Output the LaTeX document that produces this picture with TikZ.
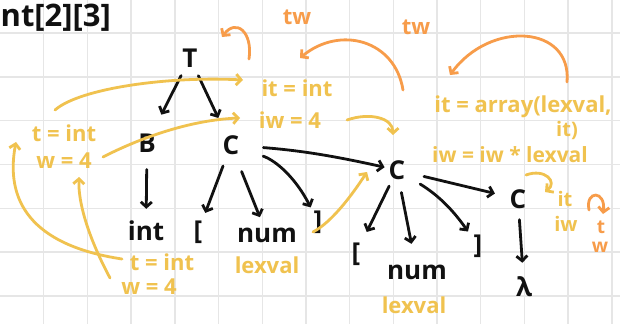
\documentclass[tikz,border=0pt]{standalone}
\usepackage{fontspec}
\setmainfont{Open Sans}
\usetikzlibrary{arrows.meta}
\definecolor{gridgray}{HTML}{E6E6E6}
\definecolor{inkblack}{HTML}{111111}
\definecolor{annyellow}{HTML}{F0C24F}
\definecolor{annorange}{HTML}{F79C4A}

\begin{document}
\begin{tikzpicture}[
  x=1pt,y=-1pt,
  every node/.style={inner sep=1pt},
  sym/.style={text=inkblack,font=\fontsize{26}{28}\bfseries},
  ann/.style={text=annyellow,font=\fontsize{22}{24}\bfseries},
  oann/.style={text=annorange,font=\fontsize{22}{24}\bfseries},
  edge/.style={-{Straight Barb[length=5pt,width=11pt]},line width=2.8pt,line cap=round,color=inkblack},
  yarrow/.style={-{Straight Barb[length=5pt,width=11pt]},line width=2.8pt,line cap=round,color=annyellow},
  oarrow/.style={-{Straight Barb[length=5pt,width=11pt]},line width=2.8pt,line cap=round,color=annorange}
]
\useasboundingbox (0,0) rectangle (620,324);
\fill[white] (0,0) rectangle (620,324);
% squared paper
\foreach \k in {1,...,14} \draw[gridgray,line width=1.4pt] (43.7*\k,0) -- (43.7*\k,324);
\foreach \k in {0,...,6} \draw[gridgray,line width=1.4pt] (0,33+43.8*\k) -- (620,33+43.8*\k);

% the declaration and its parse tree
\node[sym,font=\fontsize{31}{33}\bfseries,anchor=west] (decl) at (-10,17) {int[2][3]};
\node[sym] (T) at (190,58) {T};
\node[sym] (B) at (147,143) {B};
\node[sym] (C1) at (231,145) {C};
\node[sym] (int) at (146,231) {int};
\node[sym] (lb1) at (198,232) {[};
\node[sym] (num1) at (267,235) {num};
\node[sym] (rb1) at (318,222) {]};
\node[sym] (C2) at (397,170) {C};
\node[sym] (lb2) at (356,254) {[};
\node[sym] (num2) at (417,272) {num};
\node[sym] (rb2) at (478,246) {]};
\node[sym] (C3) at (518,199) {C};
\node[sym] (lam) at (524,287) {λ};

\draw[edge,shorten <=8pt,shorten >=20pt] (T) -- (B);
\draw[edge,shorten <=8pt,shorten >=18pt] (T) -- (C1);
\draw[edge,shorten <=16pt,shorten >=11pt] (B) -- (int);
\draw[edge,shorten <=11pt,shorten >=7pt] (C1) -- (lb1);
\draw[edge,shorten <=17pt,shorten >=10pt] (C1) -- (num1);
\draw[edge,shorten <=24pt,shorten >=4pt] (C1) to[bend left=22] (rb1);
\draw[edge,shorten <=23pt,shorten >=3pt] (C1) to[bend left=4] (C2);
\draw[edge,shorten <=6pt,shorten >=12pt] (C2) -- (lb2);
\draw[edge,shorten <=12pt,shorten >=20pt] (C2) -- (num2);
\draw[edge,shorten <=16pt,shorten >=8pt] (C2) to[bend left=12] (rb2);
\draw[edge,shorten <=18pt,shorten >=14pt] (C2) -- (C3);
\draw[edge,shorten <=10pt,shorten >=13pt] (C3) -- (lam);

% attributes
\node[ann] (tint) at (64,133) {t = int};
\node[ann] (wfour) at (64,161) {w = 4};
\node[ann] (itint) at (297,88) {it = int};
\node[ann] (iwfour) at (290,120) {iw = 4};
\node[ann] (itarr) at (523,107) {it = array(lexval,};
\node[ann,font=\fontsize{20}{22}\bfseries,inner sep=0pt] (itclose) at (567,130) {it)};
\node[ann,font=\fontsize{21}{23}\bfseries,inner sep=0pt] (iwmul) at (510,155) {iw = iw * lexval};
\node[ann] (lex1) at (267,265) {lexval};
\node[ann] (lex2) at (414,305) {lexval};
\node[ann] (tint2) at (162,262) {t = int};
\node[ann] (wfour2) at (149,287) {w = 4};
\node[ann,font=\fontsize{20}{22}\bfseries] (it3) at (565,199) {it};
\node[ann,font=\fontsize{20}{22}\bfseries] (iw3) at (566,224) {iw};
\node[oann] (tw1) at (297,17) {tw};
\node[oann] (tw2) at (416,27) {tw};
\node[oann,font=\fontsize{19}{21}\bfseries,inner sep=0pt] (t3) at (601,227) {t};
\node[oann,font=\fontsize{19}{21}\bfseries,inner sep=0pt] (w3) at (600,247) {w};

% inherited attributes (yellow)
\coordinate (y1a) at (55,110);   \coordinate (y1b) at (243,80);
\coordinate (y2a) at (103,157);  \coordinate (y2b) at (240,118);
\coordinate (y3a) at (347,120);  \coordinate (y3b) at (393,135);
\coordinate (y4a) at (313,232);  \coordinate (y4b) at (367,172);
\coordinate (y5a) at (122,259);  \coordinate (y5b) at (16,142);
\coordinate (y6a) at (110,278);  \coordinate (y6b) at (79,177);
\coordinate (y7a) at (526,175);  \coordinate (y7b) at (545,192);
\draw[yarrow] (y1a) .. controls (80,88) and (170,76) .. (y1b);
\draw[yarrow] (y2a) .. controls (140,138) and (190,120) .. (y2b);
\draw[yarrow] (y3a) .. controls (370,112) and (393,118) .. (y3b);
\draw[yarrow] (y4a) .. controls (332,222) and (352,195) .. (y4b);
\draw[yarrow] (y5a) .. controls (30,245) and (5,200) .. (y5b);
\draw[yarrow] (y6a) .. controls (95,250) and (78,210) .. (y6b);
\draw[yarrow] (y7a) .. controls (545,168) and (558,182) .. (y7b);

% synthesized attributes (orange)
\coordinate (o1a) at (249,59);   \coordinate (o1b) at (222,37);
\coordinate (o2a) at (403,90);   \coordinate (o2b) at (300,58);
\coordinate (o3a) at (567,82);   \coordinate (o3b) at (450,75);
\coordinate (o4a) at (589,210);  \coordinate (o4b) at (603,214);
\draw[oarrow] (o1a) .. controls (253,32) and (236,18) .. (o1b);
\draw[oarrow] (o2a) .. controls (395,40) and (340,25) .. (o2b);
\draw[oarrow] (o3a) .. controls (572,25) and (490,20) .. (o3b);
\draw[oarrow] (o4a) .. controls (585,190) and (606,190) .. (o4b);
\end{tikzpicture}
\end{document}
